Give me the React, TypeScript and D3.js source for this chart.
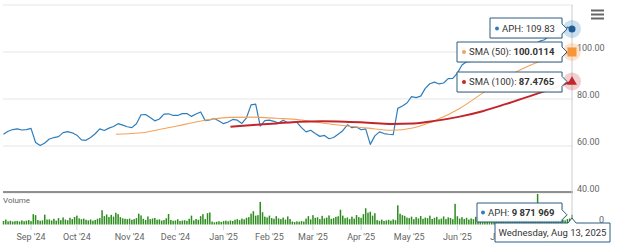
import React from "react";
import * as d3 from "d3";

const W = 620;
const H = 249;

// trading calendar
const firstDay = "2024-08-15";
const lastDay = "2025-08-13";
const holidays = [
  "2024-09-02", "2024-11-28", "2024-12-25", "2025-01-01", "2025-01-09",
  "2025-01-20", "2025-02-17", "2025-04-18", "2025-05-26", "2025-06-19", "2025-07-04",
];

// APH close, every second trading day
const priceClose = [
  65.0, 66.3, 67.0, 67.3, 66.8, 67.0, 67.5, 61.5, 60.2, 61.3,
  63.0, 63.6, 64.0, 65.7, 66.1, 65.6, 64.6, 62.6, 62.4, 63.6,
  65.2, 67.3, 66.6, 67.6, 68.3, 69.5, 68.9, 68.2, 67.8, 69.5,
  73.3, 73.4, 72.1, 70.7, 71.5, 73.6, 73.7, 73.0, 73.0, 73.8,
  73.8, 72.6, 73.6, 74.5, 70.8, 71.1, 71.7, 70.6, 69.5, 70.2,
  71.3, 71.0, 69.6, 72.0, 77.5, 77.8, 68.5, 70.8, 71.0, 70.5,
  69.8, 71.0, 69.9, 70.0, 70.1, 67.8, 66.0, 66.7, 65.3, 64.1,
  64.5, 63.1, 63.6, 65.0, 66.5, 69.0, 67.8, 68.1, 66.9, 67.3,
  60.7, 64.3, 66.0, 65.3, 65.0, 64.8, 76.0, 77.0, 78.3, 81.0,
  80.6, 81.2, 84.5, 86.5, 87.2, 86.4, 86.8, 88.7, 88.8, 91.0,
  94.5, 95.8, 96.0, 96.8, 96.3, 97.2, 97.8, 98.5, 99.0, 99.6,
  100.2, 101.0, 101.5, 101.2, 102.3, 103.0, 103.5, 104.6, 105.2, 106.8,
  107.5, 106.5, 108.3, 110.6, 109.83,
];

// SMA samples every 10 trading days (from first available day) plus last day
const sma50 = [
  65.0, 65.5, 67.2, 69.2, 71.2, 72.2, 72.3, 71.8, 71.2, 69.8,
  68.6, 67.6, 66.7, 67.8, 71.2, 76.0, 82.5, 89.0, 94.0, 97.8, 100.0114,
];
const sma100 = [
  68.2, 68.9, 69.6, 70.3, 70.5, 70.3, 69.9, 69.4, 69.6, 70.8,
  72.5, 74.8, 77.8, 81.0, 84.3, 87.4765,
];

// daily volume, millions of shares
const volumeM = [
  3.5, 5.0, 3.2, 3.8, 3.0, 3.4, 3.6, 3.1, 4.2, 3.3, 3.9, 4.5, 3.4,
  10.5, 9.5,
  4.5, 3.8, 4.2, 10.0, 5.0,
  5.2, 4.1, 5.8, 3.9, 6.5, 4.4, 7.2, 5.0, 4.3, 6.8, 5.5, 7.6, 9.0, 6.2,
  5.4, 6.0, 4.8, 4.2, 5.1, 3.9, 4.6, 5.8,
  6.5, 14.5,
  8.5, 10.2, 7.6, 9.8, 8.0, 12.0, 10.5,
  7.5, 6.2, 5.8, 5.4, 6.0, 4.8, 5.5,
  6.5, 11.0,
  9.2, 5.8, 4.6, 8.2, 5.4, 6.1, 6.6, 4.9, 5.2, 4.0, 4.5, 6.3,
  10.7,
  4.6, 3.8, 4.1, 5.3, 3.5, 4.0, 4.4, 3.7, 5.8,
  9.0,
  4.2, 5.6, 4.8,
  8.5, 10.5, 5.5, 11.5, 12.2,
  3.0, 2.2, 2.8, 3.3, 2.6, 3.5, 3.9, 3.2, 4.1, 3.6,
  4.8, 5.5, 4.4, 6.0, 5.2, 6.8, 7.5,
  11.0, 13.5, 9.0,
  9.5, 23.0,
  12.5, 8.0, 7.2, 9.0, 6.5, 5.8, 8.5, 6.2, 5.5, 7.0, 5.0, 8.2, 5.6,
  3.0, 2.5, 3.2, 2.8, 3.5, 3.0,
  6.0, 8.5, 5.2, 9.5, 6.8, 7.4, 5.5, 8.8, 6.2, 7.0, 9.2, 5.8, 6.5, 7.8, 8.4,
  15.0,
  9.0, 6.4, 7.2, 5.5, 8.0, 6.0, 9.6, 7.5, 6.8, 10.5,
  16.5,
  12.0, 13.0, 9.0, 11.5,
  4.5, 3.8, 5.0, 3.6, 4.2, 4.8, 3.9, 5.2, 4.4,
  19.5,
  11.0, 9.5, 8.8, 7.0,
  6.5, 8.0, 5.4, 7.5, 6.2, 8.6, 5.8, 7.0, 6.4, 9.0, 5.6, 6.8, 7.8, 5.2, 6.0, 8.2, 5.5, 7.2, 6.6, 5.4,
  21.0,
  8.4, 6.0, 7.5, 5.6, 6.8, 5.0,
  6.2, 5.4, 7.8, 6.6, 5.0, 12.0, 6.0, 14.0, 7.5, 6.3,
  5.8, 6.9, 5.2, 7.1, 6.5, 5.6, 8.0, 6.2, 5.4, 7.3,
  6.0, 5.7, 8.8, 6.4, 7.0, 9.5, 8.2, 10.5, 12.0,
  31.0,
  16.0, 10.5, 8.5, 7.2, 6.5, 7.8, 6.0, 5.5, 6.8, 5.2, 4.8, 4.2, 5.6, 6.1, 9.871969,
];

const priceTicks = [40, 60, 80, 100, 120];
const priceLabels = [40, 60, 80, 100];
const volumeLabels = [0];

const seriesName = "APH";
const lastPriceText = "109.83";
const sma50Text = "100.0114";
const sma100Text = "87.4765";
const lastVolumeText = "9 871 969";
const lastDateText = "Wednesday, Aug 13, 2025";

const BLUE = "#2f7ebc";
const ORANGE = "#f4a25a";
const RED = "#c3252b";
const GREEN = "#2d8c1e";
const BORDER = "#2c5d7e";
const FONT = "Roboto, 'Noto Sans', sans-serif";

function tradingDays(): Date[] {
  const out: Date[] = [];
  const hol = new Set(holidays);
  const end = new Date(lastDay + "T00:00:00Z").getTime();
  for (let t = new Date(firstDay + "T00:00:00Z").getTime(); t <= end; t += 86400000) {
    const d = new Date(t);
    const wd = d.getUTCDay();
    if (wd === 0 || wd === 6) continue;
    if (hol.has(d.toISOString().slice(0, 10))) continue;
    out.push(d);
  }
  return out;
}

function CalloutRight({ x, y, w, h, tipX, tipY, children }: any) {
  const r = x + w;
  const d = `M${x},${y} H${r} V${tipY - 5} L${tipX},${tipY} L${r},${tipY + 5} V${y + h} H${x} Z`;
  return (
    <g>
      <path d={d} transform="translate(1,1)" fill="rgba(0,0,0,0.08)" />
      <path d={d} fill="rgba(255,255,255,0.96)" stroke={BORDER} strokeWidth={1} />
      {children}
    </g>
  );
}

export default function App() {
  const days = tradingDays();
  const n = days.length;
  const x = d3.scaleLinear().domain([0, n - 1]).range([3.5, 572]);
  const y = d3.scaleLinear().domain([40, 120]).range([193, 5]);
  const yv = d3.scaleLinear().domain([0, 32]).range([224.5, 193]);

  const pricePts: [number, number][] = priceClose.map((v, k) => [Math.min(2 * k, n - 1), v]);
  const idx50 = d3.range(49, n - 1, 10).concat([n - 1]);
  const idx100 = d3.range(99, n - 1, 10).concat([n - 1]);
  const sma50Pts: [number, number][] = sma50.map((v, i) => [idx50[i], v]);
  const sma100Pts: [number, number][] = sma100.map((v, i) => [idx100[i], v]);

  const line = d3.line<[number, number]>().x((d) => x(d[0])).y((d) => y(d[1]));
  const smooth = d3
    .line<[number, number]>()
    .x((d) => x(d[0]))
    .y((d) => y(d[1]))
    .curve(d3.curveMonotoneX);

  const fmt = d3.utcFormat("%b '%y");
  const monthTicks: { i: number; label: string }[] = [];
  days.forEach((d, i) => {
    if (i > 0 && d.getUTCMonth() !== days[i - 1].getUTCMonth()) monthTicks.push({ i, label: fmt(d) });
  });

  const lastI = n - 1;
  const lx = x(lastI);
  const barW = 1.5;

  const tri = d3.symbol().type(d3.symbolTriangle).size(42)();

  return (
    <svg
      width={W}
      height={H}
      style={{ position: "absolute", left: 0, top: 0, fontFamily: FONT }}
    >
      <rect width={W} height={H} fill="#fff" />
      {priceTicks.map((t) => (
        <line key={t} x1={3} x2={573} y1={y(t)} y2={y(t)} stroke="#e6e6e6" strokeWidth={1} />
      ))}
      <line x1={3} x2={573} y1={192} y2={192} stroke="#6e6e6e" strokeWidth={1.6} />

      {/* volume */}
      {volumeM.map((v, i) => (
        <rect key={i} x={x(i) - barW / 2} y={yv(v)} width={barW} height={yv(0) - yv(v)} fill={GREEN} />
      ))}
      {monthTicks.map((t) => (
        <line key={t.i} x1={x(t.i)} x2={x(t.i)} y1={225} y2={230} stroke="#ccd6eb" strokeWidth={1} />
      ))}
      <text x={3} y={202.5} fontSize={8} fill="#666">Volume</text>

      {/* crosshair */}
      <line x1={lx} x2={lx} y1={5} y2={224} stroke="#cccccc" strokeWidth={1} />

      <path d={line(pricePts) || ""} fill="none" stroke={BLUE} strokeWidth={1.2} strokeLinejoin="round" />
      <path d={smooth(sma50Pts) || ""} fill="none" stroke={ORANGE} strokeWidth={1.1} />
      <path d={smooth(sma100Pts) || ""} fill="none" stroke={RED} strokeWidth={2} />

      {/* y labels */}
      {priceLabels.map((t) => (
        <text key={t} x={577} y={y(t) - 1.5} fontSize={9} fill="#666">{d3.format(".2f")(t)}</text>
      ))}
      {volumeLabels.map((t) => (
        <text key={"v" + t} x={604} y={yv(t) - 1.5} fontSize={9} fill="#666" textAnchor="end">{t}</text>
      ))}

      {/* x labels */}
      {monthTicks.map((t) => (
        <text key={"l" + t.i} x={x(t.i)} y={239.5} fontSize={9} fill="#666" textAnchor="middle">{t.label}</text>
      ))}

      {/* hover markers */}
      <circle cx={lx} cy={y(priceClose[priceClose.length - 1])} r={9} fill={BLUE} opacity={0.25} />
      <circle cx={lx} cy={y(priceClose[priceClose.length - 1])} r={3.5} fill="#1d5c94" />
      <circle cx={lx} cy={y(sma50[sma50.length - 1])} r={9} fill={ORANGE} opacity={0.3} />
      <rect x={lx - 4.5} y={y(sma50[sma50.length - 1]) - 4.5} width={9} height={9} fill="#f5963a" />
      <circle cx={lx} cy={y(sma100[sma100.length - 1])} r={9} fill={RED} opacity={0.22} />
      <path d={tri || ""} transform={`translate(${lx},${y(sma100[sma100.length - 1]) + 0.5})`} fill={RED} />

      {/* tooltips */}
      <CalloutRight x={490} y={18} w={72} h={20} tipX={567} tipY={y(priceClose[priceClose.length - 1])}>
        <circle cx={497} cy={28.5} r={2} fill={BLUE} />
        <text x={502} y={31.8} fontSize={9.5} fill="#333">{seriesName}: {lastPriceText}</text>
      </CalloutRight>
      <CalloutRight x={457} y={42} w={105} h={20} tipX={567} tipY={y(sma50[sma50.length - 1])}>
        <circle cx={464} cy={52} r={2} fill={ORANGE} />
        <text x={469} y={55.3} fontSize={9.5} fill="#333">
          SMA (50): <tspan fontWeight="bold">{sma50Text}</tspan>
        </text>
      </CalloutRight>
      <CalloutRight x={457} y={72} w={105} h={20} tipX={567} tipY={y(sma100[sma100.length - 1])}>
        <circle cx={464} cy={82} r={2} fill={RED} />
        <text x={469} y={85.3} fontSize={9.5} fill="#333">
          SMA (100): <tspan fontWeight="bold">{sma100Text}</tspan>
        </text>
      </CalloutRight>
      <CalloutRight x={477} y={203} w={85} h={19} tipX={567} tipY={yv(volumeM[volumeM.length - 1])}>
        <circle cx={483} cy={212.5} r={2} fill={BLUE} />
        <text x={488} y={215.8} fontSize={9.5} fill="#333">
          {seriesName}: <tspan fontWeight="bold">{lastVolumeText}</tspan>
        </text>
      </CalloutRight>
      <g>
        <path
          d={`M495,223 H${lx - 4} L${lx},218 L${lx + 4},223 H610 V242 H495 Z`}
          fill="rgba(255,255,255,0.97)"
          stroke={BORDER}
          strokeWidth={1}
        />
        <text x={552.5} y={235.5} fontSize={9.5} fill="#333" textAnchor="middle">{lastDateText}</text>
      </g>

      {/* menu icon */}
      {[10.5, 14.5, 18.5].map((yy) => (
        <line key={yy} x1={591} x2={604} y1={yy} y2={yy} stroke="#666" strokeWidth={2} />
      ))}
    </svg>
  );
}
